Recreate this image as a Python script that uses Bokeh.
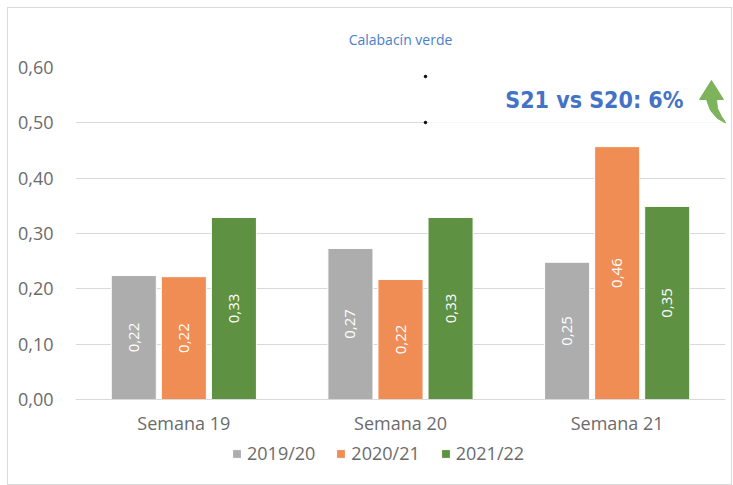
from bokeh.plotting import figure
from bokeh.models import (ColumnDataSource, FactorRange, Legend, LegendItem,
                          FixedTicker, BoxAnnotation, Label, CustomJSTickFormatter)
from bokeh.core.properties import value
from bokeh.embed import file_html
from bokeh.resources import INLINE
import math

weeks = ["Semana 19", "Semana 20", "Semana 21"]
seasons = ["2019/20", "2020/21", "2021/22"]
v_2019 = [0.224, 0.273, 0.248]
v_2020 = [0.222, 0.217, 0.457]
v_2021 = [0.329, 0.329, 0.349]
labels_2019 = ["0,22", "0,27", "0,25"]
labels_2020 = ["0,22", "0,22", "0,46"]
labels_2021 = ["0,33", "0,33", "0,35"]
colors = ["#ADADAD", "#F08D55", "#5E9141"]
title_text = "Calabacín verde"
note_text = "S21 vs S20: 6%"

FONT = "Open Sans"
TXT = "#6b6b6b"

p = figure(width=725, height=478, x_range=FactorRange(*weeks), y_range=(-0.1572, 0.6),
           output_backend="svg", toolbar_location=None,
           min_border_left=67, min_border_right=8, min_border_top=59,
           min_border_bottom=0,
           styles={"border": "1px solid #d9d9d9", "position": "relative",
                   "top": "7px", "left": "7px"})
p.title.text = title_text
p.title.align = "center"
p.title.text_font = FONT
p.title.text_font_style = "normal"
p.title.text_font_size = "14px"
p.title.text_color = "#4A7EC8"
p.title.standoff = 37
p.outline_line_color = None
p.background_fill_color = "white"
p.border_fill_color = "white"

series = [v_2019, v_2020, v_2021]
lbls = [labels_2019, labels_2020, labels_2021]
offsets = [-0.231, 0.0, 0.231]
renderers = []
for vals, lab, off, col in zip(series, lbls, offsets, colors):
    xs = [i + 0.5 + off for i in range(len(weeks))]
    src = ColumnDataSource(dict(x=xs, top=vals, mid=[v / 2 for v in vals], lab=lab))
    r = p.vbar(x="x", top="top", width=0.208, source=src, fill_color=col,
               line_color="white", line_width=1)
    renderers.append(r)
    p.text(x="x", y="mid", text="lab", source=src, angle=math.pi / 2,
           text_align="center", text_baseline="middle", text_color="white",
           text_font=value(FONT), text_font_size="15px")

# axes
p.yaxis.ticker = FixedTicker(ticks=[0, 0.1, 0.2, 0.3, 0.4, 0.5, 0.6])
p.yaxis.formatter = CustomJSTickFormatter(code="return tick.toFixed(2).replace('.', ',');")
p.yaxis.axis_line_color = None
p.yaxis.major_tick_line_color = None
p.yaxis.minor_tick_line_color = None
p.yaxis.major_label_text_font = FONT
p.yaxis.major_label_text_font_size = "18px"
p.yaxis.major_label_text_color = TXT
p.yaxis.major_label_standoff = 16

p.xaxis.fixed_location = 0
p.xaxis.axis_line_color = "#d9d9d9"
p.xaxis.axis_line_width = 1
p.xaxis.major_tick_line_color = None
p.xaxis.minor_tick_line_color = None
p.xaxis.major_label_text_font = FONT
p.xaxis.major_label_text_font_size = "18px"
p.xaxis.major_label_text_color = TXT
p.xaxis.major_label_standoff = 5

p.xgrid.grid_line_color = None
p.ygrid.grid_line_color = "#d9d9d9"
p.ygrid.grid_line_width = 1


def px(x, y):
    # decorative shapes placed by pixel position in the reference
    return ((x - 75) / 216.67, (399 - y) / 553.33)


# text box overlay + annotation
bl = px(425, 122)
tr = px(723, 76)
p.add_layout(BoxAnnotation(left=bl[0], right=tr[0], bottom=bl[1] - 0.002, top=tr[1],
                           fill_color="white", fill_alpha=0.8, line_color=None,
                           level="underlay"))
p.scatter(x=[bl[0], bl[0]], y=[tr[1], bl[1]], size=2.5, color="black")
lp = px(683, 100)
p.add_layout(Label(x=lp[0], y=lp[1], text=note_text, text_align="right",
                   text_baseline="middle", text_font="DejaVu Sans Condensed",
                   text_font_style="bold", text_font_size="23px",
                   text_color="#4472C4"))
# green curved arrow
arrow_px = [(711, 80), (723, 99), (716, 99), (717, 108), (721, 116), (726, 123),
            (717, 118), (710, 110), (706, 99), (699, 99)]
pts = [px(a, b) for a, b in arrow_px]
p.patch([q[0] for q in pts], [q[1] for q in pts], fill_color="#7DB35B",
        line_color="#7DB35B", line_width=1)

legend = Legend(items=[LegendItem(label=s, renderers=[r]) for s, r in zip(seasons, renderers)],
                orientation="horizontal", location=(156, 21),
                label_text_font=FONT, label_text_font_size="18px",
                label_text_color=TXT, glyph_width=11, glyph_height=11,
                spacing=20, label_standoff=5, border_line_color=None,
                background_fill_alpha=0, padding=4, margin=0)
p.add_layout(legend, "center")

open("out.html", "w").write(file_html(p, INLINE))
